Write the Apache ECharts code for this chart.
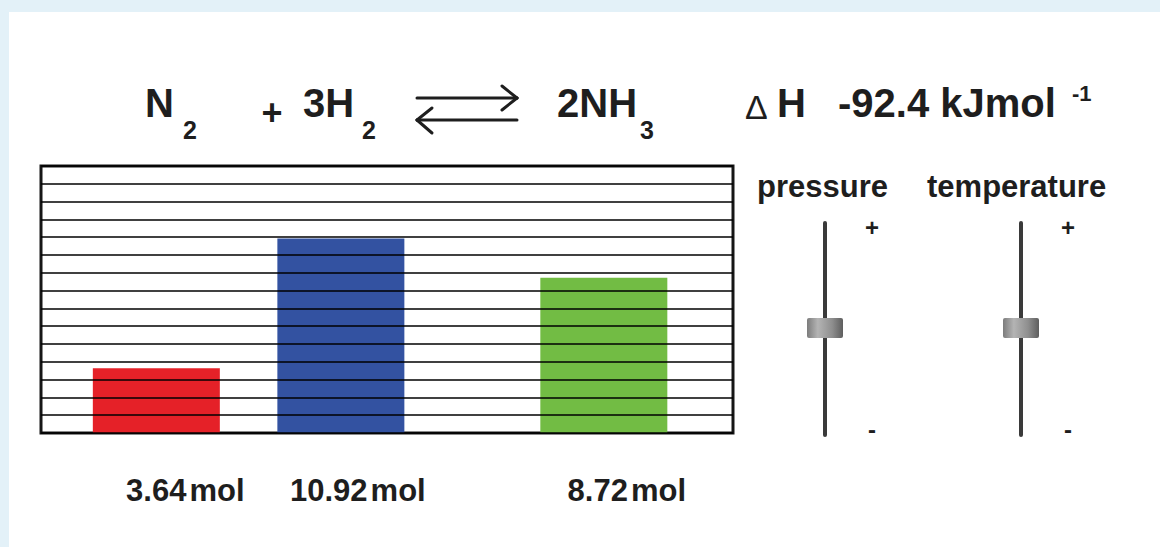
<!DOCTYPE html>
<html><head><meta charset="utf-8">
<script src="https://cdn.jsdelivr.net/npm/echarts@6/dist/echarts.min.js"></script>
<style>html,body{margin:0;padding:0;background:#fff}#c{width:1160px;height:547px}</style>
</head><body><div id="c"></div>
<script>
// ---- data ----
const species = ['N2', 'H2', 'NH3'];
const amounts = [3.64, 10.92, 8.72];
const amountUnit = 'mol';
const yMin = 0, yMax = 15, yStep = 1;

// ---- layout / style (not data) ----
const xTrackMax = 30;            // horizontal track units of the box
const barSlots = [5, 13, 24.4];  // where each species' column sits on the track
const labelShift = [29, 17, 23];
const barColors = ['#e52128', '#3352a1', '#72bc44'];
const FONT = '"Liberation Sans", Arial, Helvetica, sans-serif';
const INK = '#1e1e1e';

const chart = echarts.init(document.getElementById('c'), null, {renderer: 'svg', width: 1160, height: 547});

function txt(text, x, y, size, opts) {
  opts = opts || {};
  return {
    type: 'text', x: x, y: y, z: 10,
    style: {
      text: text, fill: opts.fill || INK,
      font: (opts.weight || 'bold') + ' ' + size + 'px ' + FONT,
      align: opts.align || 'left', verticalAlign: 'middle'
    }
  };
}
function seg(x1, y1, x2, y2, w, c) {
  return {type: 'line', z: 10, shape: {x1: x1, y1: y1, x2: x2, y2: y2},
    style: {stroke: c || INK, lineWidth: w || 3, lineCap: 'round'}};
}
function slider(cx, label, labelX) {
  return [
    txt(label, labelX, 186, 31),
    seg(cx, 223, cx, 435, 4, '#3a3a3a'),
    {type: 'rect', z: 11, shape: {x: cx - 18, y: 318, width: 36, height: 20, r: 2},
      style: {fill: new echarts.graphic.LinearGradient(0, 0, 1, 0, [
        {offset: 0, color: '#7c7c7c'}, {offset: 0.3, color: '#b4b4b4'},
        {offset: 0.7, color: '#8e8e8e'}, {offset: 1, color: '#5e5e5e'}])}},
    txt('+', cx + 47, 227, 24, {align: 'center'}),
    txt('-', cx + 47, 429, 24, {align: 'center'})
  ];
}

const graphics = [
  {type: 'rect', z: -5, shape: {x: 0, y: 0, width: 1160, height: 12}, style: {fill: '#e3f1f8'}},
  {type: 'rect', z: -5, shape: {x: 0, y: 0, width: 9, height: 547}, style: {fill: '#e3f1f8'}},
  // equation
  txt('N', 145, 103, 40),
  txt('2', 183, 130, 25),
  txt('+', 272, 112, 36, {align: 'center'}),
  txt('3H', 303, 103, 40),
  txt('2', 362, 130, 25),
  seg(417, 98, 517, 98, 3), seg(502, 86, 517, 98, 3), seg(502, 110, 517, 98, 3),
  seg(417, 120, 517, 120, 3), seg(432, 108, 417, 120, 3), seg(432, 133, 417, 120, 3),
  txt('2NH', 557, 103, 40),
  txt('3', 640, 130, 25),
  txt('\u0394', 745, 107, 34, {weight: 'normal'}),
  txt('H', 777, 103, 40),
  txt('-92.4 kJmol', 838, 103, 40),
  txt('-1', 1072, 93, 22)
].concat(slider(825, 'pressure', 757), slider(1021, 'temperature', 927));

const option = {
  backgroundColor: '#ffffff',
  animation: false,
  grid: {left: 41, top: 166, width: 692, height: 267, show: true,
    backgroundColor: '#ffffff', borderColor: '#161616', borderWidth: 3},
  xAxis: {type: 'value', min: 0, max: xTrackMax, show: true,
    axisLine: {show: false}, axisTick: {show: false}, axisLabel: {show: false}, splitLine: {show: false}},
  yAxis: {type: 'value', min: yMin, max: yMax, interval: yStep, z: 5,
    axisLine: {show: false}, axisTick: {show: false}, axisLabel: {show: false},
    splitLine: {show: true, lineStyle: {color: 'rgba(0,0,0,0.75)', width: 2}}},
  series: [{
    type: 'bar',
    barWidth: 127,
    data: amounts.map((v, i) => ({
      name: species[i],
      value: [barSlots[i], v],
      itemStyle: {color: barColors[i]},
      label: {offset: [labelShift[i], 0]}
    })),
    label: {
      show: true, position: 'bottom', distance: 42,
      formatter: p => '{n|' + amounts[p.dataIndex] + '}{u|' + amountUnit + '}',
      rich: {
        n: {fontFamily: FONT, fontWeight: 'bold', fontSize: 31, color: INK},
        u: {fontFamily: FONT, fontWeight: 'bold', fontSize: 31, color: INK, padding: [0, 0, 0, 3]}
      },
      fontFamily: FONT, fontWeight: 'bold', fontSize: 31, color: INK
    }
  }],
  graphic: {elements: graphics}
};
chart.setOption(option);
</script>
</body></html>
